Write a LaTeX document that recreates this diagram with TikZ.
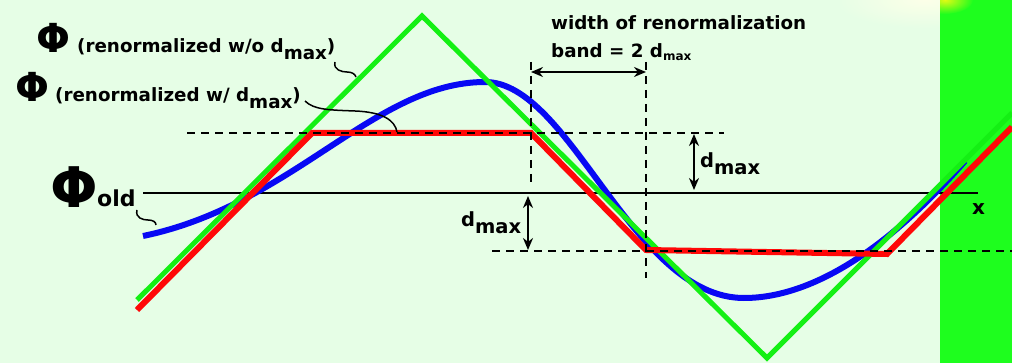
\documentclass[tikz,border=0pt]{standalone}
\usepackage{fontspec}
\setmainfont{DejaVu Sans}
\usetikzlibrary{arrows.meta}
\definecolor{bg}{HTML}{E6FEE6}
\definecolor{strip}{HTML}{1EFE1E}
\definecolor{cgreen}{HTML}{14F014}
\definecolor{cred}{HTML}{FF0808}
\definecolor{cblue}{HTML}{0808F4}
\tikzset{
  lbl/.style={inner sep=0pt, anchor=base west, font=\bfseries\fontsize{18.3}{20}\selectfont},
  philbl/.style={inner sep=0pt, anchor=base west, font=\bfseries\fontsize{40}{42}\selectfont},
  dashline/.style={line width=2pt, dash pattern=on 8pt off 6pt},
  dimarrow/.style={line width=2pt, {Stealth[length=12pt,width=10pt]}-{Stealth[length=12pt,width=10pt]}},
  squig/.style={line width=1.5pt},
  curve/.style={line width=6pt, line join=miter},
}
\newcommand{\dmx}{d\raisebox{-7pt}{max}}
\begin{document}
\begin{tikzpicture}[x=1pt,y=-1pt]
\fill[bg] (0,0) rectangle (1012,363);
\useasboundingbox (0,0) rectangle (1012,363);
% top glow
\begin{scope}
\clip (840,0) rectangle (940,40);
\shade[inner color={rgb,255:red,252;green,255;blue,232}, outer color=bg] (925,0) ellipse (90 and 28);
\end{scope}
% green strip
\fill[strip] (940,0) rectangle (1012,363);
\begin{scope}
\clip (940,0) rectangle (1012,40);
\shade[inner color={rgb,255:red,225;green,250;blue,20}, outer color=strip] (945,0) ellipse (28 and 14);
\end{scope}

% coordinates
\coordinate (ax0) at (143,193);
\coordinate (ax1) at (978,193);
\coordinate (up0) at (187,133);
\coordinate (up1) at (724,133);
\coordinate (lo0) at (492,251);
\coordinate (lo1) at (1012,251);
\coordinate (v1a) at (531,62);
\coordinate (v1b) at (531,182);
\coordinate (v2a) at (646,62);
\coordinate (v2b) at (646,278);

% axis
\draw[line width=2.2pt] (ax0) -- (ax1);

% blue curve
\draw[cblue, line width=6pt] (143,236) .. controls (293,205) and (375,82) .. (485,82)
  .. controls (571,82) and (632,298) .. (744,298)
  .. controls (824,298) and (905,230) .. (965,161);

% green curve
\draw[cgreen, curve, line width=5pt] (137,300) -- (422,16) -- (767,358) -- (1012,113);
% red curve
\draw[cred, curve] (137,310) -- (312,133) -- (531,133) -- (646,250) -- (887,254) -- (1012,127);

% dashed lines
\draw[dashline] (up0) -- (up1);
\draw[dashline] (lo0) -- (lo1);
\draw[dashline] (v1a) -- (v1b);
\draw[dashline] (v2a) -- (v2b);

% dimension arrows
\coordinate (h1) at (531,72);
\coordinate (h2) at (646,72);
\draw[dimarrow] (h1) -- (h2);
\coordinate (r1) at (694,134);
\coordinate (r2) at (694,190);
\draw[dimarrow] (r1) -- (r2);
\coordinate (l1) at (528,196);
\coordinate (l2) at (528,250);
\draw[dimarrow] (l1) -- (l2);

% texts
\node[lbl] (w1) at (551,30) {width of renormalization};
\node[lbl] (w2) at (551,58) {band = 2 d{\fontsize{12}{12}\selectfont\raisebox{-3pt}{max}}};
\node[lbl, font=\bfseries\fontsize{19.5}{20}\selectfont] (dr) at (700,168) {\dmx};
\node[lbl, font=\bfseries\fontsize{19.5}{20}\selectfont] (dl) at (461,227) {\dmx};
\node[lbl, font=\bfseries\fontsize{20}{20}\selectfont] (xl) at (972,215) {x};

\node[philbl] (p1) at (36,53) {Φ};
\node[lbl] (t1) at (77,53) {(renormalized w/o \dmx)};
\node[philbl] (p2) at (15,102) {Φ};
\node[lbl] (t2) at (55,102) {(renormalized w/ \dmx)};
\node[philbl, font=\bfseries\fontsize{56}{58}\selectfont] (p3) at (50,208) {Φ};
\node[lbl, font=\bfseries\fontsize{22}{22}\selectfont] (old) at (97,207) {old};

% squiggle connectors
\coordinate (s1a) at (335,62);
\coordinate (s1b) at (356,77);
\draw[squig] (s1a) .. controls (333,70) and (342,72) .. (347,72) .. controls (352,72) and (355,74) .. (s1b);
\coordinate (s2a) at (305,101);
\coordinate (s2b) at (397,132);
\draw[squig] (s2a) .. controls (314,110) and (330,110) .. (355,111) .. controls (382,112) and (395,120) .. (s2b);
\coordinate (s3a) at (137,210);
\coordinate (s3b) at (156,225);
\draw[squig] (s3a) .. controls (135,218) and (143,220) .. (148,220) .. controls (153,220) and (156,222) .. (s3b);
\end{tikzpicture}
\end{document}
